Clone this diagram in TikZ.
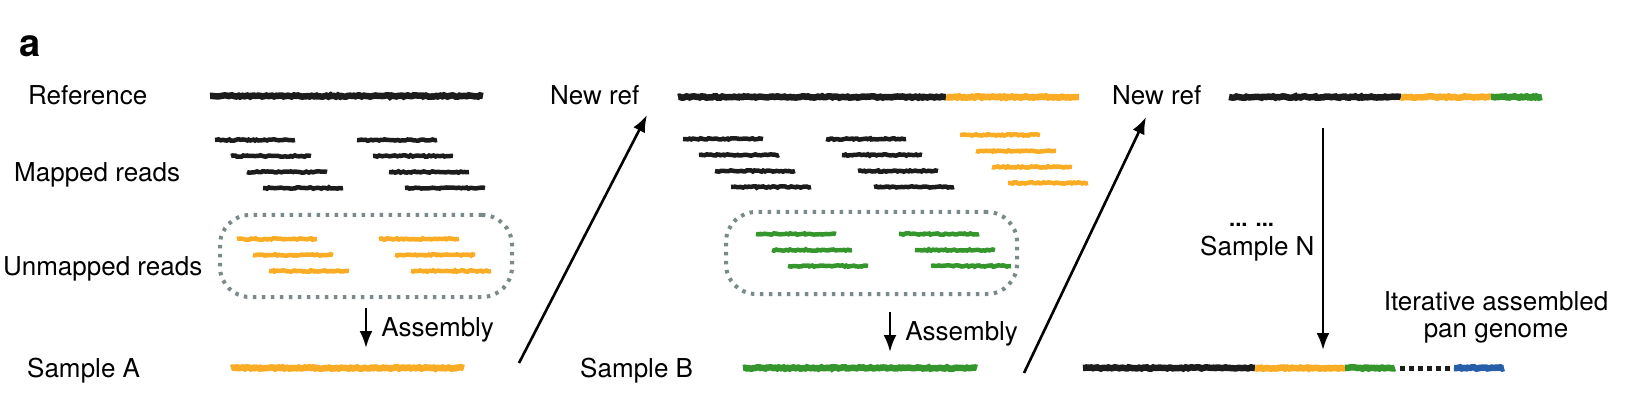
\documentclass[tikz,border=0pt]{standalone}
\usepackage{fontspec}
\setmainfont{TeX Gyre Heros}
\usepackage{xcolor}
\usepackage{tikz}
\usetikzlibrary{arrows.meta,positioning,decorations.pathmorphing}

\definecolor{seqk}{RGB}{28,28,28}
\definecolor{seqo}{RGB}{249,172,36}
\definecolor{seqg}{RGB}{52,150,44}
\definecolor{seqb}{RGB}{38,94,168}
\definecolor{boxgray}{RGB}{122,138,138}

\tikzset{
  lbl/.style={anchor=base west, inner sep=0pt, font=\fontsize{26}{28}\selectfont},
  seq/.style={line width=6.5pt, decorate, decoration={random steps, segment length=2pt, amplitude=.7pt}},
  rd/.style={seq, line width=4.5pt},
  dotbox/.style={draw=boxgray, line width=4pt, dash pattern=on 3.5pt off 5.5pt, rounded corners=30pt, inner sep=0pt},
  arr/.style={->, line width=2.6pt},
}

\begin{document}
\begin{tikzpicture}[x=1pt, y=-1pt, >={Latex[length=17pt,width=13pt]}]
\pgfmathsetseed{11}
\useasboundingbox (0,0) rectangle (1646,406);
\node[lbl, font=\fontsize{38}{40}\selectfont\bfseries] (tag) at (19,57) {a};
% left labels
\node[lbl] (refl) at (28,105) {Reference};
\node[lbl] (mapl) at (14,182) {Mapped reads};
\node[lbl] (unml) at (3,275) {Unmapped reads};
\node[lbl] (sal) at (27,377) {Sample A};
\node[lbl] (nr1) at (550,105) {New ref};
\node[lbl] (sbl) at (580,377) {Sample B};
\node[lbl] (nr2) at (1112,105) {New ref};
\node[lbl, font=\fontsize{22}{24}\selectfont\bfseries] (dots) at (1229,226) {... ...};
\node[lbl] (snl) at (1200,255) {Sample N};
\node[lbl, anchor=base] (it1) at (1496,310) {Iterative assembled};
\node[lbl, anchor=base] (it2) at (1496,337) {pan genome};

% sample A panel
\draw[seq, seqk] (210,96) -- (483,96);
\foreach \i in {0,...,3} {
  \draw[rd, seqk] (215+16*\i,140+16*\i) -- ++(80,0);
  \draw[rd, seqk] (357+16*\i,140+16*\i) -- ++(80,0);
}
\node[dotbox, minimum width=292pt, minimum height=82pt] (box1) at (366,256) {};
\foreach \i in {0,...,2} {
  \draw[rd, seqo] (237+16*\i,239+16*\i) -- ++(80,0);
  \draw[rd, seqo] (379+16*\i,239+16*\i) -- ++(80,0);
}
\draw[seq, seqo] (231,368) -- (464,368);
\coordinate (a1) at (366,308);
\coordinate (a2) at (366,348);
\draw[arr] (a1) -- (a2) node[lbl, pos=.7, xshift=14pt] (asm1) {Assembly};

% sample B panel
\coordinate (u1) at (519,363);
\coordinate (u2) at (647,115);
\draw[arr] (u1) -- (u2);
\draw[seq, seqk] (678,97) -- (946,97);
\draw[seq, seqo] (946,97) -- (1079,97);
\foreach \i in {0,...,3} {
  \draw[rd, seqk] (683+16*\i,139+16*\i) -- ++(80,0);
  \draw[rd, seqk] (826+16*\i,139+16*\i) -- ++(80,0);
  \draw[rd, seqo] (960+16*\i,135+16*\i) -- ++(80,0);
}
\node[dotbox, minimum width=291pt, minimum height=82pt] (box2) at (871.5,253) {};
\foreach \i in {0,...,2} {
  \draw[rd, seqg] (756+16*\i,234+16*\i) -- ++(80,0);
  \draw[rd, seqg] (899+16*\i,234+16*\i) -- ++(80,0);
}
\draw[seq, seqg] (743,368) -- (977,368);
\coordinate (b1) at (890,312);
\coordinate (b2) at (890,352);
\draw[arr] (b1) -- (b2) node[lbl, pos=.7, xshift=14pt] (asm2) {Assembly};

% sample N panel
\coordinate (v1) at (1024,373);
\coordinate (v2) at (1146,117);
\draw[arr] (v1) -- (v2);
\draw[seq, seqk] (1229,97) -- (1401,97);
\draw[seq, seqo] (1401,97) -- (1491,97);
\draw[seq, seqg] (1491,97) -- (1542,97);
\coordinate (n1) at (1323,128);
\coordinate (n2) at (1323,350);
\draw[arr] (n1) -- (n2);
\draw[seq, seqk] (1083,368) -- (1255,368);
\draw[seq, seqo] (1255,368) -- (1345,368);
\draw[seq, seqg] (1345,368) -- (1395,368);
\draw[seqk, line width=5pt, dash pattern=on 4.5pt off 4.5pt] (1400,368) -- (1450,368);
\draw[seq, seqb] (1454,368) -- (1504,368);
\end{tikzpicture}
\end{document}
